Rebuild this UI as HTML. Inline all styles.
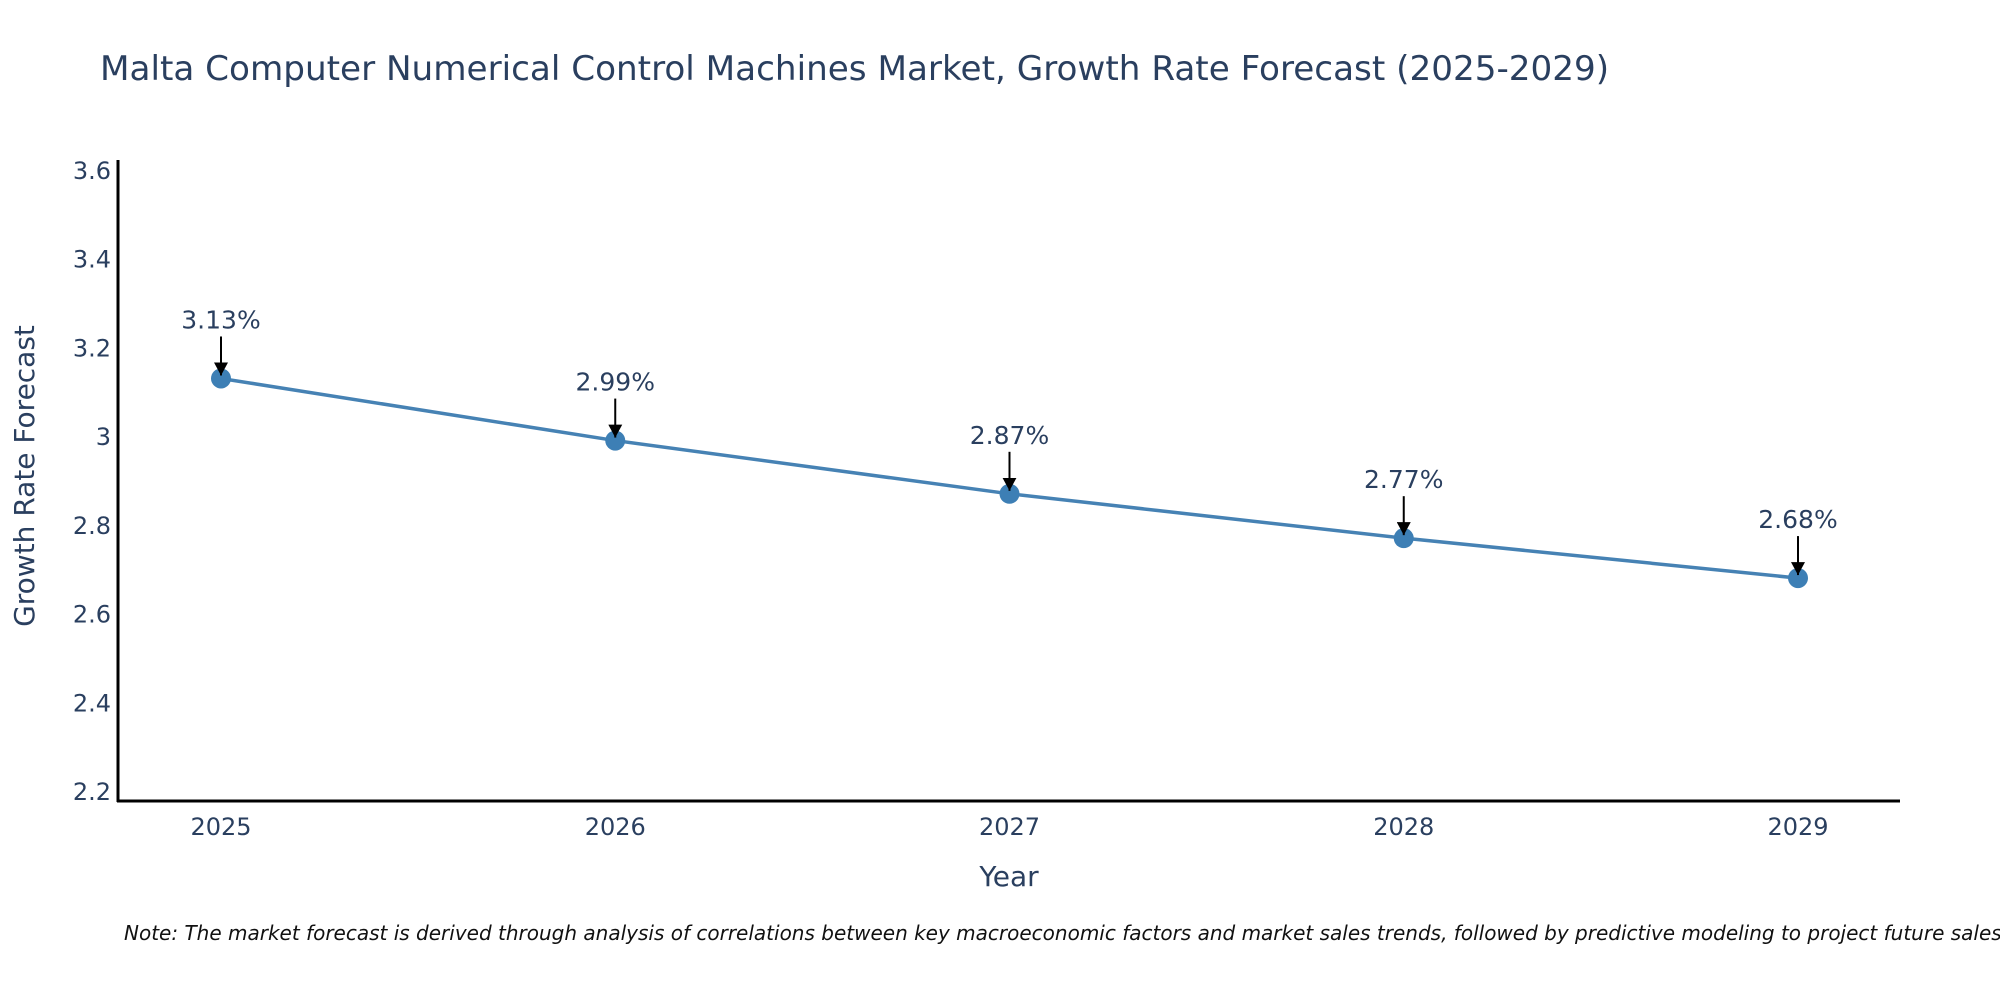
<!DOCTYPE html>
<html><head><meta charset="utf-8"><style>
body{margin:0;background:#fff;}
svg text{font-family:"DejaVu Sans","Liberation Sans",sans-serif;fill:#2a3f5f;}
</style></head><body>
<svg id="c" width="2000" height="1000" xmlns="http://www.w3.org/2000/svg">
<defs><marker id="ah" markerWidth="13" markerHeight="14" refX="13" refY="7" orient="auto" markerUnits="userSpaceOnUse" viewBox="0 0 13 14"><path d="M0,0 L13,7 L0,14 z" fill="#000"/></marker></defs>
<text x="100" y="80" font-size="34.2">Malta Computer Numerical Control Machines Market, Growth Rate Forecast (2025-2029)</text>
<g id="yt"></g><g id="xt"></g><g id="plot"></g>
<line x1="118" y1="160" x2="118" y2="802" stroke="#000" stroke-width="3"/>
<line x1="117" y1="801" x2="1900" y2="801" stroke="#000" stroke-width="3"/>
<text transform="translate(34,476) rotate(-90)" text-anchor="middle" font-size="28">Growth Rate Forecast</text>
<text x="1009" y="886" text-anchor="middle" font-size="28">Year</text>
<text x="124" y="940" font-size="20" font-style="italic" style="fill:#111">Note: The market forecast is derived through analysis of correlations between key macroeconomic factors and market sales trends, followed by predictive modeling to project future sales.</text>
</svg>
<script>
const years=["2025","2026","2027","2028","2029"];
const values=[3.13,2.99,2.87,2.77,2.68];
const labels=["3.13%","2.99%","2.87%","2.77%","2.68%"];
const yTicks=[2.2,2.4,2.6,2.8,3,3.2,3.4,3.6];
const NS="http://www.w3.org/2000/svg";
function xs(i){return 221+i*394.25;}
function ys(v){return 791-(v-2.2)/1.4*621;}
function mk(t,a,p){const e=document.createElementNS(NS,t);for(const k in a)e.setAttribute(k,a[k]);p.appendChild(e);return e;}
const yt=document.getElementById('yt'),xt=document.getElementById('xt'),pl=document.getElementById('plot');
yTicks.forEach(v=>{const t=mk('text',{x:111,y:ys(v)+9,'text-anchor':'end','font-size':24},yt);t.textContent=String(v);

});
years.forEach((y,i)=>{const t=mk('text',{x:xs(i),y:835,'text-anchor':'middle','font-size':24},xt);t.textContent=y;

});
const pts=values.map((v,i)=>xs(i)+','+ys(v)).join(' ');
const ln=mk('polyline',{points:pts,fill:'none',stroke:'#4682b4','stroke-width':3.5},pl);


values.forEach((v,i)=>{
const c=mk('circle',{cx:xs(i),cy:ys(v),r:10,fill:'#3d7fb5'},pl);


const a=mk('line',{x1:xs(i),y1:ys(v)-42,x2:xs(i),y2:ys(v)-3,stroke:'#000','stroke-width':2,'marker-end':'url(#ah)'},pl);


const t=mk('text',{x:xs(i),y:ys(v)-50,'text-anchor':'middle','font-size':25},pl);t.textContent=labels[i];


});
</script>
</body></html>
